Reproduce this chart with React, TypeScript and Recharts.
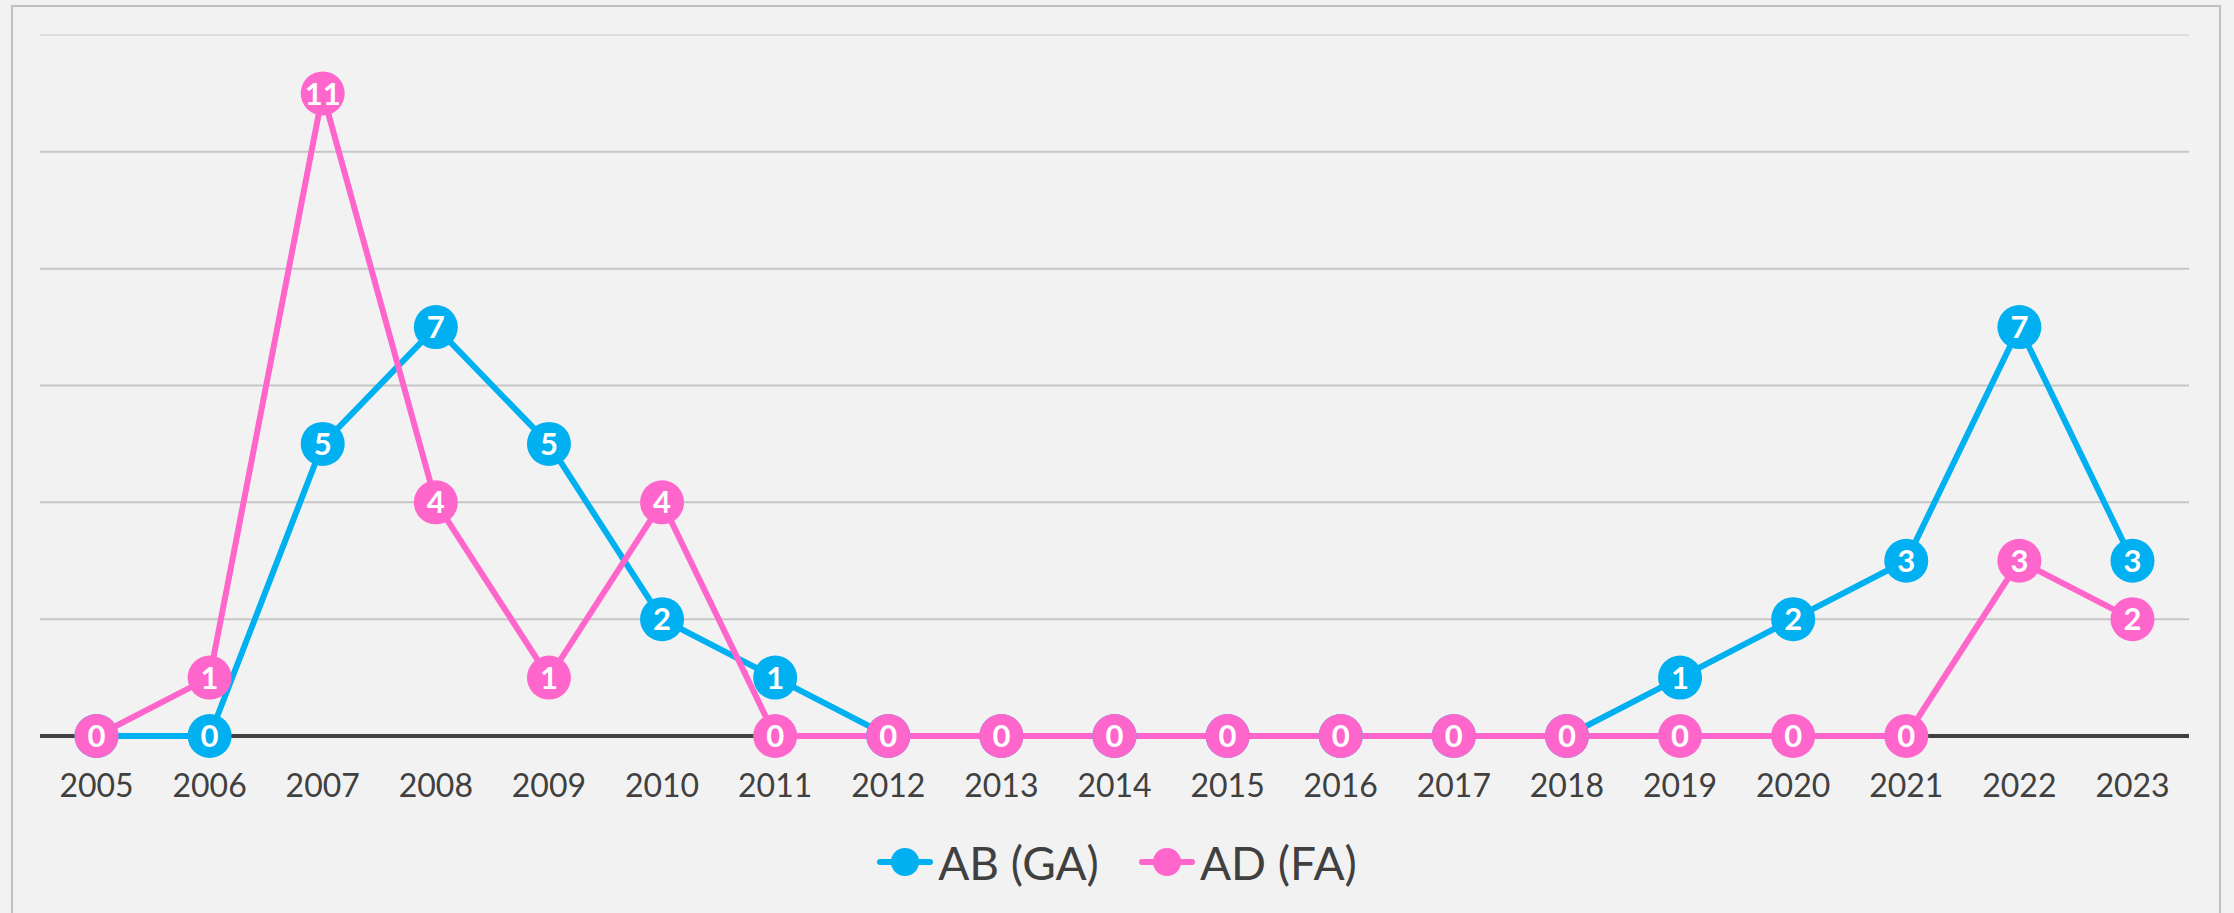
import React from 'react';
import {
  CartesianGrid,
  Legend,
  Line,
  LineChart,
  ReferenceLine,
  XAxis,
  YAxis,
} from 'recharts';

// Years on the category axis.
const YEARS = [
  '2005', '2006', '2007', '2008', '2009', '2010', '2011', '2012', '2013', '2014',
  '2015', '2016', '2017', '2018', '2019', '2020', '2021', '2022', '2023',
];
const AB_GA = [0, 0, 5, 7, 5, 2, 1, 0, 0, 0, 0, 0, 0, 0, 1, 2, 3, 7, 3];
const AD_FA = [0, 1, 11, 4, 1, 4, 0, 0, 0, 0, 0, 0, 0, 0, 0, 0, 0, 3, 2];
const Y_TICKS = [0, 2, 4, 6, 8, 10, 12];

const SERIES = [
  { key: 'ab', name: 'AB (GA)', color: '#00b0f0' },
  { key: 'ad', name: 'AD (FA)', color: '#ff66cc' },
];

const rows = YEARS.map((year, i) => ({ year, ab: AB_GA[i], ad: AD_FA[i] }));

const FONT = 'Lato, "Open Sans", sans-serif';
const W = 2234;
const H = 913;

function markerDot(color: string) {
  return (p: any) => {
    if (p.cx == null || p.cy == null) return <g key={p.key ?? p.index} />;
    return (
      <g key={p.key ?? `d-${p.index}`}>
        <circle cx={p.cx} cy={p.cy} r={22} fill={color} stroke="none" />
        <text
          x={p.cx}
          y={p.cy}
          dy="0.36em"
          textAnchor="middle"
          fill="#ffffff"
          fontSize={31}
          fontWeight={700}
          fontFamily={FONT}
        >
          {p.value}
        </text>
      </g>
    );
  };
}

function LegendRow() {
  return (
    <div
      style={{
        display: 'flex',
        justifyContent: 'center',
        alignItems: 'center',
        gap: 40,
        height: 60,
        fontFamily: FONT,
        fontSize: 46,
        color: '#404040',
      }}
    >
      {SERIES.map((s) => (
        <div key={s.key} style={{ display: 'flex', alignItems: 'center' }}>
          <svg width={56} height={32} style={{ marginRight: 5 }}>
            <line x1={3} y1={16} x2={53} y2={16} stroke={s.color} strokeWidth={6} strokeLinecap="round" />
            <circle cx={28} cy={16} r={14} fill={s.color} />
          </svg>
          <span>{s.name}</span>
        </div>
      ))}
    </div>
  );
}

export default function App() {
  return (
    <div
      style={{
        position: 'absolute',
        left: 0,
        top: 0,
        width: W,
        height: H,
        background: '#f2f2f2',
        overflow: 'hidden',
      }}
    >
      <div
        style={{
          position: 'absolute',
          left: 11,
          top: 5,
          width: 2206,
          height: 1000,
          border: '2px solid #c0c0c0',
        }}
      />
      <div style={{ position: 'absolute', left: 0, top: 0 }}>
        <LineChart width={W} height={H} data={rows} margin={{ top: 35, right: 45, bottom: 21, left: 40 }}>
          <CartesianGrid vertical={false} stroke="#c6c6c6" strokeWidth={2} />
          <ReferenceLine y={12} stroke="#dcdcdc" strokeWidth={2} />
          <ReferenceLine y={0} stroke="#404040" strokeWidth={4} zIndex={-50} />
          <YAxis hide domain={[0, 12]} ticks={Y_TICKS} />
          <XAxis
            dataKey="year"
            height={96}
            padding={{ left: 56.5, right: 56.5 }}
            interval={0}
            tickLine={false}
            tickSize={0}
            tickMargin={38}
            axisLine={false}
            tick={{ fill: '#404040', fontSize: 32, fontFamily: FONT }}
          />
          <Legend
            verticalAlign="bottom"
            wrapperStyle={{ left: 0, width: W, bottom: 21 }}
            content={() => <LegendRow />}
          />
          {SERIES.map((s) => (
            <Line
              key={s.key}
              type="linear"
              dataKey={s.key}
              name={s.name}
              stroke={s.color}
              strokeWidth={6}
              dot={markerDot(s.color)}
              activeDot={false}
              isAnimationActive={false}
            />
          ))}
        </LineChart>
      </div>
    </div>
  );
}
